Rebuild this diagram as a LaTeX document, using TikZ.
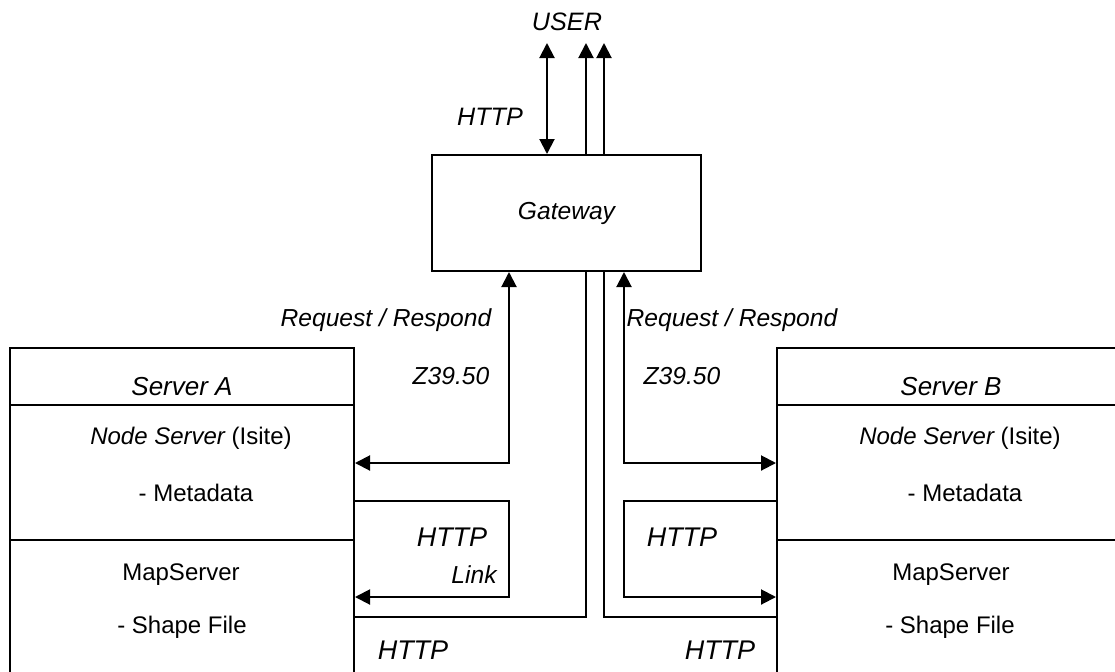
\documentclass[tikz,border=0pt]{standalone}
\usepackage{fontspec}
\setmainfont{Liberation Sans}
\usetikzlibrary{arrows.meta}

\begin{document}
\begin{tikzpicture}[x=0.5pt, y=-0.5pt, line width=1pt,
    txt/.style={inner sep=0pt, font=\fontsize{12}{14}\selectfont},
    itxt/.style={inner sep=0pt, font=\fontsize{12.3}{14}\selectfont\itshape},
    proto/.style={inner sep=0pt, font=\fontsize{13.5}{16}\selectfont\itshape},
    box/.style={draw, inner sep=0pt, minimum width=172pt},
    tip/.style={-{Triangle[length=7.5pt,width=7.5pt]}},
    tips/.style={{Triangle[length=7.5pt,width=7.5pt]}-{Triangle[length=7.5pt,width=7.5pt]}}]
  \useasboundingbox (0,0) rectangle (1115,671);
  \clip (0,0) rectangle (1115,671);

  % gateway
  \node[box, minimum width=134.5pt, minimum height=58pt,
        font=\fontsize{12.3}{14}\selectfont\itshape] (gw) at (566.5,213) {Gateway};
  \node[itxt, font=\fontsize{12.6}{14}\selectfont\itshape] (user) at (567,22) {USER};
  \node[itxt, font=\fontsize{12.6}{14}\selectfont\itshape] (httpU) at (490,117) {HTTP};

  % server A
  \node[box, minimum height=28.5pt] (headA) at (182,376.5) {};
  \node[box, minimum height=67.5pt] (nodeA) at (182,472.5) {};
  \node[box, minimum height=80pt] (mapA) at (182,620) {};
  \node[itxt, font=\fontsize{13}{15}\selectfont\itshape] (srvA) at (182,387) {Server A};
  \node[txt] (nsA) at (191,438) {{\itshape Node Server} (Isite)};
  \node[txt] (mdA) at (196,493) {- Metadata};
  \node[txt] (msA) at (181,575) {MapServer};
  \node[txt] (sfA) at (182,627) {- Shape File};

  % server B
  \node[box, minimum height=28.5pt] (headB) at (949,376.5) {};
  \node[box, minimum height=67.5pt] (nodeB) at (949,472.5) {};
  \node[box, minimum height=80pt] (mapB) at (949,620) {};
  \node[itxt, font=\fontsize{13}{15}\selectfont\itshape] (srvB) at (951,387) {Server B};
  \node[txt] (nsB) at (960,438) {{\itshape Node Server} (Isite)};
  \node[txt] (mdB) at (965,493) {- Metadata};
  \node[txt] (msB) at (951,575) {MapServer};
  \node[txt] (sfB) at (950,627) {- Shape File};

  % labels
  \node[itxt] (reqA) at (386,320) {Request / Respond};
  \node[itxt] (reqB) at (732,320) {Request / Respond};
  \node[itxt] (zA) at (451,376) {Z39.50};
  \node[itxt] (zB) at (682,376) {Z39.50};
  \node[proto] (httpA) at (452,537) {HTTP};
  \node[itxt] (link) at (474,575) {Link};
  \node[proto] (httpB) at (682,537) {HTTP};
  \node[proto] (httpC) at (413,650) {HTTP};
  \node[proto] (httpD) at (720,650) {HTTP};

  % to the user
  \coordinate (usr1) at (547,43);
  \coordinate (usr2) at (586,43);
  \coordinate (usr3) at (604,43);
  \draw[tips] (gw.north -| usr1) -- (usr1);
  \draw[tip] (gw.north -| usr2) -- (usr2);
  \draw[tip] (gw.north -| usr3) -- (usr3);

  % gateway to servers
  \draw[tips] (gw.south -| 509,0) |- (nodeA.east |- 0,463);
  \draw[tips] (gw.south -| 624,0) |- (nodeB.west |- 0,463);
  \draw (gw.south -| usr2) |- (mapA.east |- 0,617);
  \draw (gw.south -| usr3) |- (mapB.west |- 0,617);

  % links
  \draw[tip] (nodeA.east |- 0,501) -| (509,597) -- (mapA.east |- 0,597);
  \draw[tip] (nodeB.west |- 0,501) -| (624,597) -- (mapB.west |- 0,597);
\end{tikzpicture}
\end{document}
